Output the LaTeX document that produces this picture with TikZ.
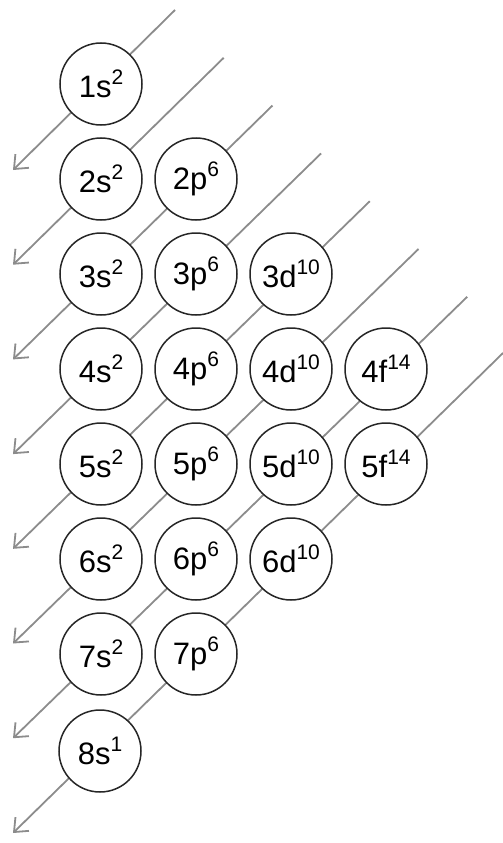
\documentclass[tikz,border=0pt]{standalone}
\usepackage{fontspec}
\setmainfont{Liberation Sans}
\usetikzlibrary{arrows.meta}
\newcommand{\orb}[2]{{\fontsize{31}{31}\selectfont #1}\raisebox{13pt}{\fontsize{21}{21}\selectfont #2}}
\tikzset{
  orbital/.style={circle, draw=black!85, line width=1.5pt, fill=white, minimum size=82pt, inner sep=0pt},
  diag/.style={draw=black!45, line width=1.8pt, -{Straight Barb[angle=80:15pt, line width=1.8pt]}}
}
\begin{document}
\begin{tikzpicture}[x=1pt, y=-1pt]
\useasboundingbox (0,0) rectangle (503,843);
% diagonal start and tip points
\foreach \k in {1,...,7} {
  \coordinate (st\k) at ({175+48.7*(\k-1)}, {10+47.8*(\k-1)});
  \coordinate (tp\k) at (13, {170+94.7*(\k-1)});
}
\coordinate (st8) at (503,353);
\coordinate (tp8) at (13,833);
\foreach \k in {1,...,8} {
  \draw[diag] (st\k) -- (tp\k);
}
% orbitals
\node[orbital] (s1) at (101,84) {\orb{1s}{2}};
\node[orbital] (s2) at (101,179) {\orb{2s}{2}};
\node[orbital] (p2) at (196,179) {\orb{2p}{6}};
\node[orbital] (s3) at (101,274) {\orb{3s}{2}};
\node[orbital] (p3) at (196,274) {\orb{3p}{6}};
\node[orbital] (d3) at (291,274) {\orb{3d}{10}};
\node[orbital] (s4) at (101,369) {\orb{4s}{2}};
\node[orbital] (p4) at (196,369) {\orb{4p}{6}};
\node[orbital] (d4) at (291,369) {\orb{4d}{10}};
\node[orbital] (f4) at (386,369) {\orb{4f}{14}};
\node[orbital] (s5) at (101,464) {\orb{5s}{2}};
\node[orbital] (p5) at (196,464) {\orb{5p}{6}};
\node[orbital] (d5) at (291,464) {\orb{5d}{10}};
\node[orbital] (f5) at (386,464) {\orb{5f}{14}};
\node[orbital] (s6) at (101,559) {\orb{6s}{2}};
\node[orbital] (p6) at (196,559) {\orb{6p}{6}};
\node[orbital] (d6) at (291,559) {\orb{6d}{10}};
\node[orbital] (s7) at (101,654) {\orb{7s}{2}};
\node[orbital] (p7) at (196,654) {\orb{7p}{6}};
\node[orbital] (s8) at (100,751) {\orb{8s}{1}};
\end{tikzpicture}
\end{document}
